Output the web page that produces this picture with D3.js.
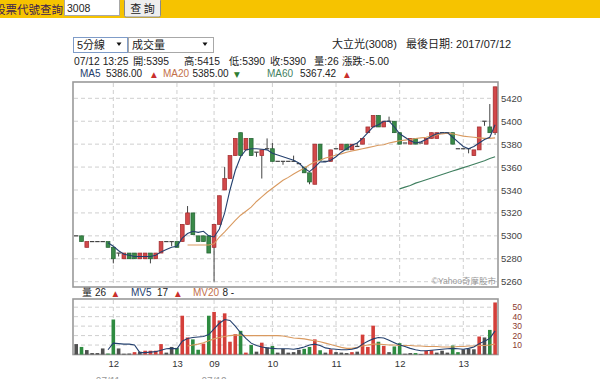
<!DOCTYPE html>
<html>
<head>
<meta charset="utf-8">
<script src="https://cdn.jsdelivr.net/npm/d3@7"></script>
<style>
  body { margin: 0; background: #fff; }
  svg { display: block; font-family: "Liberation Sans", Arial, "Noto Sans CJK TC", sans-serif; }
</style>
</head>
<body>
<div id="chart"></div>
<script>
// 5-minute bars, 07/11 11:25 .. 07/12 13:30 (index 0..79)
const openP  = [5300,5300,5290,5295,5295,5295,5295,5290,5285,5280, 5285,5285,5280,5280,5285,5280,5285,5295,5295,5295,
                5295,5310,5320,5300,5300,5300,5290,5310,5340,5350, 5370,5390,5375,5385,5373,5370,5376,5376,5365,5365,
                5365,5365,5363,5360,5355,5345,5380,5365,5365,5376, 5375,5380,5375,5378,5380,5390,5395,5405,5395,5400,
                5400,5390,5381,5380,5385,5381,5380,5385,5385,5390, 5390,5390,5376,5376,5376,5370,5375,5400,5395,5390];
const closeP = [5300,5295,5295,5295,5295,5295,5290,5280,5285,5285, 5280,5280,5285,5285,5280,5285,5295,5295,5295,5290,
                5310,5320,5301,5295,5295,5285,5310,5335,5350,5370, 5385,5370,5385,5370,5373,5375,5376,5365,5365,5365,
                5365,5365,5363,5355,5347,5380,5366,5365,5375,5376, 5380,5375,5380,5378,5385,5395,5405,5395,5400,5400,
                5390,5380,5381,5385,5380,5381,5385,5390,5390,5390, 5390,5380,5376,5376,5376,5375,5395,5400,5390,5430];
const highP  = [5300,5300,5295,5295,5295,5295,5295,5290,5285,5285, 5285,5285,5285,5285,5285,5285,5295,5295,5295,5295,
                5310,5326,5320,5300,5300,5300,5310,5335,5360,5370, 5385,5390,5385,5385,5373,5375,5385,5381,5365,5365,
                5365,5370,5363,5360,5355,5380,5380,5365,5375,5376, 5380,5380,5380,5381,5385,5395,5405,5405,5400,5404,
                5400,5390,5381,5385,5385,5381,5385,5390,5390,5390, 5390,5390,5376,5376,5376,5375,5395,5400,5415,5430];
const lowP   = [5300,5295,5290,5295,5295,5295,5290,5276,5282,5280, 5280,5280,5280,5280,5276,5280,5285,5295,5291,5290,
                5295,5310,5301,5295,5295,5285,5260,5310,5340,5350, 5370,5370,5375,5370,5369,5350,5376,5365,5365,5362,
                5365,5365,5363,5355,5345,5345,5366,5365,5365,5376, 5375,5375,5375,5378,5380,5390,5395,5395,5395,5400,
                5390,5380,5381,5380,5380,5381,5380,5385,5385,5390, 5390,5380,5376,5376,5372,5370,5375,5396,5390,5388];

const volume = [11,8,4.7,1.5,1.5,6.4,1,37,6.4,0.8, 1,2.5,3,4,4,4,11,2,8,7,
                41,18,16,5,11.5,41,45,36,43.5,13.5, 21.5,25,2,10,3,12.5,7.5,9,2,6,
                2,2.5,5,6,8,16,4.5,2,5.5,2.5, 2,1.5,2.5,3,21,8,30.5,13.5,9,2.5,
                8.5,12,0.8,1.5,1.5,0.5,4,4.5,2,4, 2,9.5,2.5,5.5,6,5.5,19,18,26,55];
// 1 = up (red), -1 = down (green), 0 = flat (grey)
const volDir = [0,-1,0,0,0,0,-1,-1,0,0, 0,1,0,1,1,1,1,0,0,-1,
                1,1,-1,-1,1,-1,1,1,1,1, 1,-1,1,-1,0,1,0,-1,0,0,
                0,0,0,-1,-1,1,-1,0,1,0, 0,0,1,0,1,1,1,-1,1,0,
                -1,-1,0,0,-1,0,1,1,0,0, 0,-1,-1,0,0,0,1,0,-1,1];

const ma5Start = 6;
const ma5 = [5294,5291,5287,5284,5283,5282,5282,5282,5282,5283,5286,5288,5290,5291,
             5298,5302,5304,5303,5304,5300,5299,5306,5320,5340,5357,5369,5375,5376,5376,5375.5,
             5375,5372,5370.5,5369,5367.5,5366,5363.5,5359,5356,5360,5364.5,5364.5,5366,5369,
             5373,5376,5379,5381,5385,5390,5395,5397,5400,5400,5395,5389,5386,5383,5381,5382,
             5384,5387,5389,5390,5390,5386,5382,5378,5376,5378,5381,5384,5386,5397];
const ma20Start = 21;
const ma20 = [5292,5292,5292,5292,5292,5293,5299,5303.5,5308.5,5313.5,5318,5321.5,5325,5330,
              5334,5338,5341.5,5345,5348.5,5351,5354,5356.5,5359,5362,5364.5,5366,5368,5369,5370.5,
              5371.5,5373,5374,5375,5376,5377,5378,5379,5379.5,5381,5382,5383,5383.5,5384,5385,
              5385.5,5386,5387,5388,5389,5389.5,5389,5388,5387,5386.5,5386,5385.5,5385,5385,5385.5];
const ma60Start = 61;
const ma60 = [5341,5342.5,5344,5346,5347.5,5349,5350.5,5352,5353.5,5355,5356.5,5358,5359.5,
              5361,5362.5,5364,5365.5,5367.4,5369];

const mv5Start = 6;
const mv5 = [5,12,11.5,11,11,10,2,2,2.5,3,4.5,6,6.5,6, 14,17,18,18.5,19,21,27,33,37,36,
             30,23,17,12,9.5,8,7,6.5,6,6, 6,5.5,6.5,8,10,11,9.5,7,6,5.5, 5,5,5.5,7,11,14,16.5,18,17.5,15,
             12.5,10,8.5,6.5,5,4,4,4.5,5,5.5, 6,6.5,6,5.5,6.5,8,11.5,14,17,25];
const mv20Start = 21;
const mv20 = [9,10,11,12.5,14.5,16.5,18,19,20, 20.5,20.5,20,20,20,20,20,20,20,19.5,
              18.5,17.5,17,16.5,15.5,14.5,13.5,12,10.5,9, 7.5,6.5,6.5,7.5,9,10,11,11,10.5,10,
              10,9.5,9.5,9.5,9,9,8.5,8.5,8.5,8, 8,8,8.5,8.5,9,9,9.5,9.5,10,11];

const priceTicks = [5260, 5280, 5300, 5320, 5340, 5360, 5380, 5400, 5420];
const volTicks = [10, 20, 30, 40, 50];
const timeTickIdx = [7, 19, 26, 37, 49, 61, 73];
const timeTickLabels = ['12', '13', '09', '10', '11', '12', '13'];
const dayLabelIdx = [6, 26];
const dayLabels = ['07/11', '07/12'];

const UP = '#d2484a', UP_EDGE = '#9e2a2c';
const DOWN = '#3a8a48', DOWN_EDGE = '#236132';
const C_MA5 = '#24406e', C_MA20 = '#d99a60', C_MA60 = '#3f7f5f';

const W = 600, H = 386;
const svg = d3.select('#chart').append('svg').attr('width', W).attr('height', H);

const bars = openP.map((o, i) => ({ i, o, c: closeP[i], h: highP[i], l: lowP[i], v: volume[i], dir: volDir[i] }));
const series = (start, arr) => arr.map((v, k) => ({ i: start + k, v }));

const x = d3.scaleLinear().domain([0, 79]).range([76.2, 495.1]);
const y = d3.scaleLinear().domain([5260, 5420]).range([281.7, 98.3]);
const vy = d3.scaleLinear().domain([0, 50]).range([354.5, 307.2]);

// ---- top search bar
svg.append('rect').attr('x', 0).attr('y', 0).attr('width', W).attr('height', 18).attr('fill', '#f6c300');
svg.append('text').attr('x', -6).attr('y', 13.5).attr('font-size', 11.5).attr('fill', '#3b2050')
  .attr('font-family', '"Noto Sans CJK TC", sans-serif').text('股票代號查詢');
svg.append('rect').attr('x', 64.5).attr('y', -1).attr('width', 55).attr('height', 16.5)
  .attr('fill', '#fff').attr('stroke', '#a8a8a8');
svg.append('text').attr('x', 67).attr('y', 12).attr('font-size', 10.5).attr('fill', '#222').text('3008');
svg.append('rect').attr('x', 124.5).attr('y', -1).attr('width', 36).attr('height', 18)
  .attr('fill', '#eeeeee').attr('stroke', '#8a8a8a').attr('rx', 1.5);
svg.append('text').attr('x', 142.5).attr('y', 13).attr('text-anchor', 'middle').attr('font-size', 11)
  .attr('fill', '#222').attr('font-family', '"Noto Sans CJK TC", sans-serif').text('查 詢');

// ---- selects
const selects = [
  { x: 73.5, w: 54, label: '5分線', arrow: 119, stroke: '#7f9cc8' },
  { x: 128.5, w: 85, label: '成交量', arrow: 205, stroke: '#a8a8a8' },
];
selects.forEach(s => {
  svg.append('rect').attr('x', s.x).attr('y', 37.5).attr('width', s.w).attr('height', 15)
    .attr('fill', '#fff').attr('stroke', s.stroke);
  svg.append('text').attr('x', s.x + 3.5).attr('y', 49).attr('font-size', 11).attr('fill', '#222').text(s.label);
  svg.append('path').attr('d', `M${s.arrow - 2.5},42.5 h5 l-2.5,3.5 z`).attr('fill', '#111');
});

// ---- info rows
const txt = (xp, yp, t, fill, size) => svg.append('text').attr('x', xp).attr('y', yp)
  .attr('font-size', size || 10).attr('fill', fill || '#222').text(t);
txt(332, 47.5, '大立光(3008)', null, 11);
txt(406, 47.5, '最後日期: 2017/07/12', null, 11);

[[74, '07/12 13:25'], [133, '開:5395'], [184, '高:5415'], [229, '低:5390'], [270, '收:5390'],
 [314, '量:26'], [342, '漲跌:-5.00']].forEach(([xp, t]) => txt(xp, 64.5, t, null, 10.3));

const arrow = (xp, yp, up) => svg.append('text').attr('x', xp).attr('y', yp)
  .attr('font-size', 7.5).attr('font-family', '"DejaVu Sans", sans-serif')
  .attr('fill', up ? '#c9302c' : '#2e7d32').text(up ? '▲' : '▼');

txt(80, 77, 'MA5', C_MA5); txt(106, 77, '5386.00'); arrow(151, 77, true);
txt(163, 77, 'MA20', '#c2704a'); txt(192.5, 77, '5385.00'); arrow(234, 77, false);
txt(267, 77, 'MA60', C_MA60); txt(300, 77, '5367.42'); arrow(344, 77, true);

txt(82, 296, '量'); txt(95, 296, '26'); arrow(112.5, 296, true);
txt(131, 296, 'MV5', C_MA5); txt(157, 296, '17'); arrow(175, 296, true);
txt(193, 296, 'MV20', '#c2704a'); txt(222.5, 296, '8 -');

// ---- frames
svg.append('rect').attr('x', 73).attr('y', 82).attr('width', 425).attr('height', 205)
  .attr('fill', '#fff').attr('stroke', '#9a9a9a').attr('stroke-width', 1.6);
svg.append('rect').attr('x', 73).attr('y', 299).attr('width', 425).attr('height', 55.5)
  .attr('fill', '#fff').attr('stroke', '#9a9a9a').attr('stroke-width', 1.6);

// ---- grid
const grid = svg.append('g').attr('stroke', '#cfcfcf').attr('stroke-dasharray', '4,3').attr('stroke-width', 1);
grid.selectAll('.gh').data(priceTicks).join('line').attr('class', 'gh')
  .attr('x1', 74).attr('x2', 497).attr('y1', d => y(d)).attr('y2', d => y(d));
grid.selectAll('.gv').data(timeTickIdx).join('line').attr('class', 'gv')
  .attr('x1', d => x(d)).attr('x2', d => x(d)).attr('y1', 83).attr('y2', 286);
grid.selectAll('.vh').data(volTicks).join('line').attr('class', 'vh')
  .attr('x1', 74).attr('x2', 497).attr('y1', d => vy(d)).attr('y2', d => vy(d));
grid.selectAll('.vv').data(timeTickIdx).join('line').attr('class', 'vv')
  .attr('x1', d => x(d)).attr('x2', d => x(d)).attr('y1', 300).attr('y2', 354);

// ---- volume bars
svg.append('g').selectAll('rect').data(bars).join('rect')
  .attr('x', d => x(d.i) - 1.8).attr('width', 3.6)
  .attr('y', d => vy(d.v)).attr('height', d => vy(0) - vy(d.v))
  .attr('fill', d => d.dir > 0 ? '#d43f3a' : d.dir < 0 ? '#2e8b40' : '#505050');

const vline = d3.line().x(d => x(d.i)).y(d => vy(d.v));
svg.append('path').datum(series(mv20Start, mv20)).attr('d', vline)
  .attr('fill', 'none').attr('stroke', C_MA20).attr('stroke-width', 1.1);
svg.append('path').datum(series(mv5Start, mv5)).attr('d', vline)
  .attr('fill', 'none').attr('stroke', C_MA5).attr('stroke-width', 1.1);

// ---- candles
const cg = svg.append('g');
cg.selectAll('.wick').data(bars.filter(d => d.h > d.l)).join('line').attr('class', 'wick')
  .attr('x1', d => x(d.i)).attr('x2', d => x(d.i))
  .attr('y1', d => y(d.h)).attr('y2', d => y(d.l))
  .attr('stroke', '#444').attr('stroke-width', 1);
cg.selectAll('.doji').data(bars.filter(d => d.o === d.c)).join('line').attr('class', 'doji')
  .attr('x1', d => x(d.i) - 2.2).attr('x2', d => x(d.i) + 2.2)
  .attr('y1', d => y(d.c)).attr('y2', d => y(d.c))
  .attr('stroke', '#444').attr('stroke-width', 1.2);
cg.selectAll('.body').data(bars.filter(d => d.o !== d.c)).join('rect').attr('class', 'body')
  .attr('x', d => x(d.i) - 1.9).attr('width', 3.8)
  .attr('y', d => y(Math.max(d.o, d.c)))
  .attr('height', d => Math.max(1, Math.abs(y(d.o) - y(d.c))))
  .attr('fill', d => d.c > d.o ? UP : DOWN)
  .attr('stroke', d => d.c > d.o ? UP_EDGE : DOWN_EDGE).attr('stroke-width', 0.7);

// ---- moving averages
const pline = d3.line().x(d => x(d.i)).y(d => y(d.v));
[[ma60Start, ma60, C_MA60], [ma20Start, ma20, C_MA20], [ma5Start, ma5, C_MA5]].forEach(([s, arr, col]) => {
  svg.append('path').datum(series(s, arr)).attr('d', pline)
    .attr('fill', 'none').attr('stroke', col).attr('stroke-width', 1.1);
});

// ---- axes
const yAxis = svg.append('g').attr('transform', 'translate(501,0)')
  .call(d3.axisRight(y).tickValues(priceTicks).tickFormat(d3.format('d')).tickSize(0).tickPadding(0));
yAxis.select('.domain').remove();
yAxis.selectAll('text').attr('font-size', 9.5).attr('fill', '#444')
  .attr('font-family', '"Liberation Sans", Arial, sans-serif');

const vAxis = svg.append('g').attr('transform', 'translate(512.5,0)')
  .call(d3.axisRight(vy).tickValues(volTicks).tickFormat(d3.format('d')).tickSize(0).tickPadding(0));
vAxis.select('.domain').remove();
vAxis.selectAll('text').attr('font-size', 8.5).attr('fill', '#8b3a2e')
  .attr('font-family', '"Liberation Sans", Arial, sans-serif');

const xAxis = svg.append('g').attr('transform', 'translate(0,360)')
  .call(d3.axisBottom(x).tickValues(timeTickIdx).tickFormat((d, k) => timeTickLabels[k]).tickSize(0).tickPadding(0));
xAxis.select('.domain').remove();
xAxis.selectAll('text').attr('font-size', 9.5).attr('fill', '#333')
  .attr('font-family', '"Liberation Sans", Arial, sans-serif');

// day labels, cut off by the page bottom
svg.append('clipPath').attr('id', 'dayclip').append('rect')
  .attr('x', 0).attr('y', 373).attr('width', W).attr('height', 6);
svg.append('g').attr('clip-path', 'url(#dayclip)').selectAll('text').data(dayLabelIdx).join('text')
  .attr('x', d => x(d)).attr('y', 385).attr('text-anchor', 'middle')
  .attr('font-size', 10).attr('fill', '#999').text((d, k) => dayLabels[k]);

// watermark
svg.append('text').attr('x', 496).attr('y', 284).attr('text-anchor', 'end')
  .attr('font-size', 8.5).attr('fill', '#999').text('©Yahoo奇摩股市');
</script>
</body>
</html>
